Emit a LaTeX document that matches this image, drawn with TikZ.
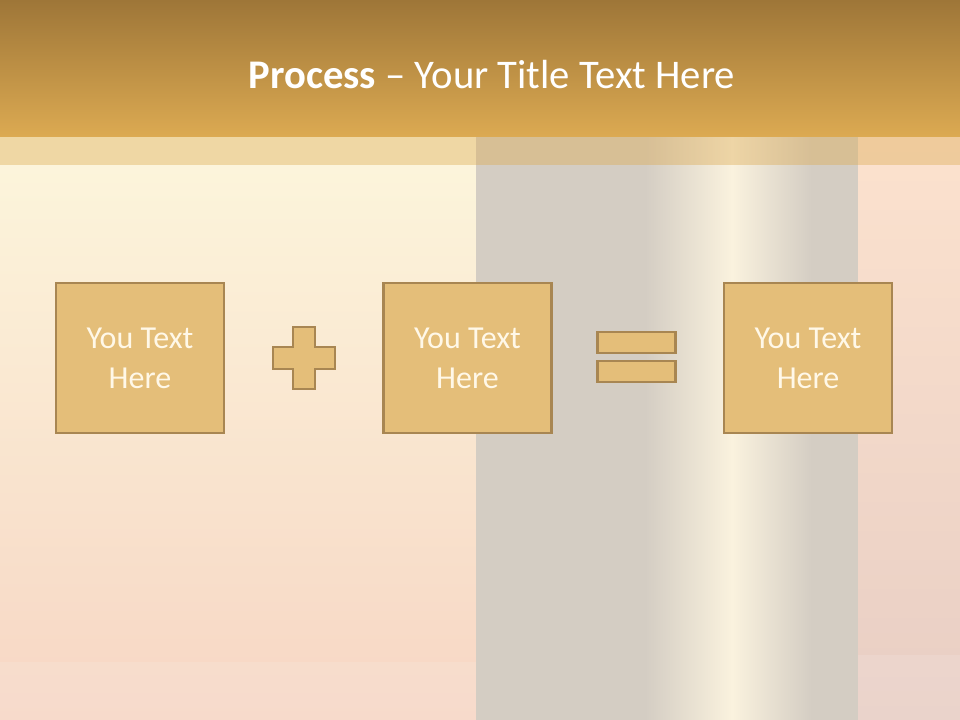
\documentclass[tikz,border=0pt]{standalone}
\usepackage{fontspec}
\setmainfont{Carlito}
\usetikzlibrary{positioning}
\definecolor{bronze}{RGB}{158,118,56}
\definecolor{gold}{RGB}{220,170,82}
\definecolor{sand}{RGB}{228,190,121}
\definecolor{tan}{RGB}{168,134,82}
\definecolor{cream}{RGB}{252,246,220}
\definecolor{peach}{RGB}{247,214,196}
\definecolor{blush}{RGB}{252,226,206}
\definecolor{rose}{RGB}{232,206,196}
\definecolor{pillar}{RGB}{212,205,195}
\definecolor{glow}{RGB}{250,242,222}
\definecolor{milk}{RGB}{255,248,232}
\tikzset{
  card/.style={draw=tan,fill=sand,line width=1.6pt,minimum width=126pt,
    minimum height=112pt,align=center,text=milk,
    font=\fontsize{24}{30}\selectfont},
  sign/.style={draw=tan,fill=sand,line width=1.6pt},
  % operator shapes
  pics/plussign/.style={code={
    \draw[sign] (-11,-31) -- (11,-31) -- (11,-11) -- (31,-11) -- (31,11) -- (11,11)
      -- (11,31) -- (-11,31) -- (-11,11) -- (-31,11) -- (-31,-11) -- (-11,-11) -- cycle;
  }},
  pics/equalsign/.style={code={
    \draw[sign] (-39,-25) rectangle (39,-4);
    \draw[sign] (-39,4) rectangle (39,25);
  }},
}

\begin{document}
\begin{tikzpicture}[x=0.75pt,y=-0.75pt]
  \useasboundingbox (0,0) rectangle (960,720);
  % background
  \shade[top color=cream,bottom color=peach] (0,137) rectangle (476,720);
  \shade[top color=blush,bottom color=rose] (858,137) rectangle (960,720);
  \fill[pillar] (476,137) rectangle (645,720);
  \shade[left color=pillar,right color=glow] (645,137) rectangle (732,720);
  \shade[left color=glow,right color=pillar] (732,137) rectangle (812,720);
  \fill[pillar] (812,137) rectangle (858,720);
  \fill[white,opacity=0.12] (0,662) rectangle (476,720);
  \fill[white,opacity=0.12] (858,655) rectangle (960,720);
  % title band
  \shade[top color=bronze,bottom color=gold] (0,0) rectangle (960,137);
  \fill[gold,opacity=0.4] (0,137) rectangle (960,165);
  \node[text=white,font=\fontsize{30.5}{36}\selectfont] (title) at (492,75)
    {\textbf{Process} -- Your Title Text Here};
  % boxes
  \node[card] (first) at (140,358) {You Text\\Here};
  \node[card] (second) at (467.5,358) {You Text\\Here};
  \node[card] (result) at (808,358) {You Text\\Here};
  \pic at (304,358) {plussign};
  \pic at (636.5,357) {equalsign};
\end{tikzpicture}
\end{document}
